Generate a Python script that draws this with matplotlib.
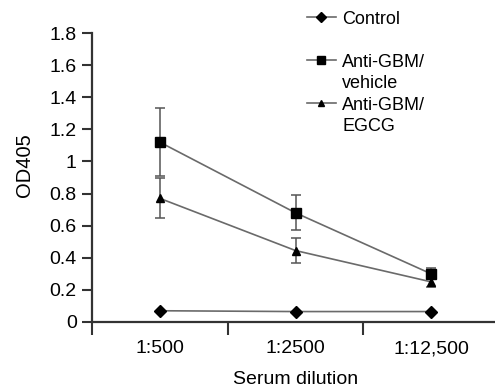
import matplotlib.pyplot as plt
from matplotlib.lines import Line2D
from matplotlib.ticker import FuncFormatter

plt.rcParams['font.family'] = ['Liberation Sans', 'DejaVu Sans']

# --- Data ---
dilutions = ["1:500", "1:2500", "1:12,500"]
control = [0.07, 0.065, 0.065]
control_err = [0.0, 0.0, 0.0]
vehicle = [1.12, 0.68, 0.30]
vehicle_err = [0.21, 0.11, 0.035]
egcg = [0.77, 0.445, 0.25]
egcg_err = [0.125, 0.08, 0.03]

xpos = [i + 0.5 for i in range(len(dilutions))]

fig = plt.figure(figsize=(4.95, 3.91), dpi=100)
ax = fig.add_axes([0.186, 0.1765, 0.822, 0.739])

line_col = "#6a6a6a"
err_col = "#555555"
styles = [("D", 6), ("s", 7), ("^", 6)]

series = [(control, control_err), (vehicle, vehicle_err), (egcg, egcg_err)]
for (vals, errs), (mk, ms) in zip(series, styles):
    ax.errorbar(xpos, vals, yerr=errs, color=line_col, lw=1.2,
                marker=mk, ms=ms, mfc="black", mec="black",
                ecolor=err_col, elinewidth=1.1, capsize=3.5, capthick=1.1)

ax.set_xlim(0, 3)
ax.set_ylim(0, 1.8)
ax.set_xticks([0, 1, 2, 3])
ax.set_xticklabels([])
ax.set_xticks(xpos, minor=True)
ax.set_xticklabels(dilutions, minor=True)
ax.tick_params(axis="x", which="minor", length=0, pad=13, labelsize=14)
ax.tick_params(axis="x", which="major", length=9, width=1.5, color="#333333")
ax.set_yticks([0, 0.2, 0.4, 0.6, 0.8, 1.0, 1.2, 1.4, 1.6, 1.8])
ax.yaxis.set_major_formatter(FuncFormatter(lambda v, p: f"{v:g}"))
ax.tick_params(axis="y", length=7, width=1.5, color="#333333", labelsize=14, pad=4)

for s in ["top", "right"]:
    ax.spines[s].set_visible(False)
for s in ["left", "bottom"]:
    ax.spines[s].set_linewidth(1.6)
    ax.spines[s].set_color("#333333")
    ax.spines[s].set_clip_on(False)

ax.set_ylabel("OD405", fontsize=14.5, va="center")
ax.yaxis.set_label_coords(-0.167, 0.542)
ax.set_xlabel("Serum dilution", fontsize=14, labelpad=10)

# legend: handle sits beside the first line of each label
def handle(mk, ms):
    return Line2D([], [], color=line_col, lw=1.2, marker=mk, ms=ms - 1,
                  mfc="black", mec="black")

blank = Line2D([], [], linestyle="none")
handles = [handle(*styles[0]), blank, handle(*styles[1]), blank,
           handle(*styles[2]), blank]
labels = ["Control", " ", "Anti-GBM/", "vehicle", "Anti-GBM/", "EGCG"]
ax.legend(handles, labels, loc="upper left", bbox_to_anchor=(0.528, 1.078),
          frameon=False, fontsize=13, handlelength=1.6, handletextpad=0.35,
          labelspacing=0.25, borderpad=0, borderaxespad=0)

fig.savefig("out.png", dpi=100)
